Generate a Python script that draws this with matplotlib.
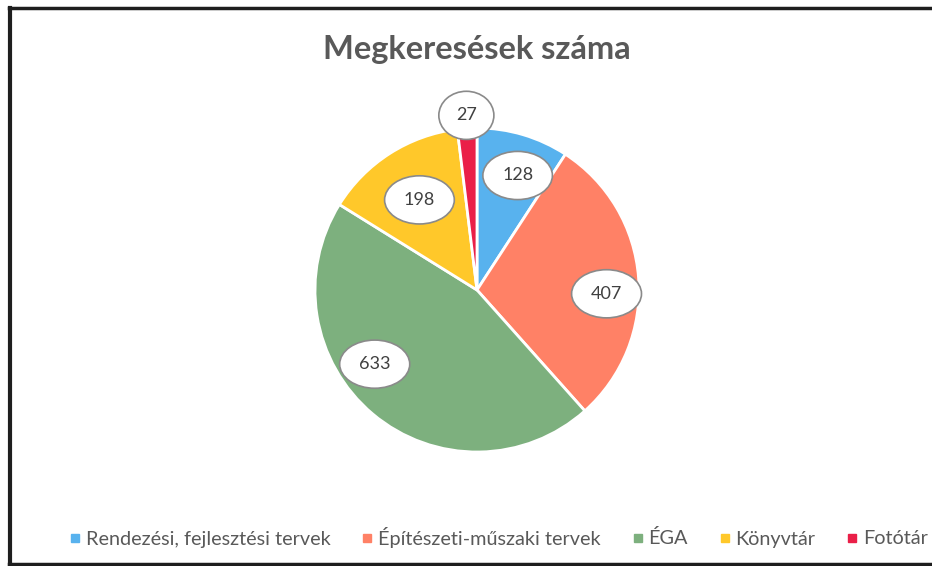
import numpy as np
import matplotlib.pyplot as plt
from matplotlib.lines import Line2D

# --- Data ---
categories = ['Rendezési, fejlesztési tervek', 'Építészeti-műszaki tervek',
              'ÉGA', 'Könyvtár', 'Fotótár']
values = [128, 407, 633, 198, 27]
colors = ['#58B2EE', '#FF8166', '#7DB07E', '#FFC82A', '#EA1F48']
title = 'Megkeresések száma'

# label placement (radius as fraction of R, angle shift in degrees)
label_r = [0.75, 0.80, 0.78, 0.66, 1.08]
label_shift = [-3, -6, -14, 0, 0]

fig = plt.figure(figsize=(9.32, 5.66), dpi=100)
fig.patch.set_facecolor('white')

# frame around the chart
W, H = 932, 566
def fx(px): return px / W
def fy(py): return 1 - py / H
fig.add_artist(Line2D([fx(9), fx(932)], [fy(8), fy(8)], color='#1e1e1e', lw=2.5))
fig.add_artist(Line2D([fx(10), fx(10)], [fy(8), fy(564)], color='#1e1e1e', lw=3))
fig.add_artist(Line2D([fx(9), fx(932)], [fy(564), fy(564)], color='#1e1e1e', lw=2.5))

# pie axes: center ~ (477, 290), radius ~162 px
R = 162
cx, cy = 477, 290
ax = fig.add_axes([fx(cx - R), fy(cy + R), 2 * R / W, 2 * R / H])
wedges, _ = ax.pie(values, colors=colors, startangle=90, counterclock=False,
                   radius=1.0, wedgeprops=dict(edgecolor='white', linewidth=2))
ax.set_xlim(-1, 1)
ax.set_ylim(-1, 1)
ax.set_aspect('equal')
ax.axis('off')

for w, v, rr, sh in zip(wedges, values, label_r, label_shift):
    ang = np.deg2rad((w.theta1 + w.theta2) / 2 + sh)
    x, y = rr * np.cos(ang), rr * np.sin(ang)
    ax.text(x, y, str(v), ha='center', va='center', fontsize=13,
            color='#404040', family='Lato', clip_on=False, zorder=5,
            bbox=dict(boxstyle='ellipse,pad=0.5',
                      fc='white', ec='#8a8a8a', lw=1.2))

fig.text(fx(477), fy(50), title, ha='center', va='center', fontsize=23.5,
         color='#595959', family='Lato', fontweight='bold')

handles = [Line2D([0], [0], marker='s', color='w', markerfacecolor=c,
                  markeredgecolor=c, markersize=6) for c in colors]
fig.legend(handles, categories, loc='center', bbox_to_anchor=(fx(499), fy(537)),
           ncol=5, frameon=False, handlelength=0.5, handletextpad=0.3,
           columnspacing=1.6, prop=dict(family='Lato', size=14.3),
           labelcolor='#595959')

fig.savefig('out.png', dpi=100, facecolor='white')
